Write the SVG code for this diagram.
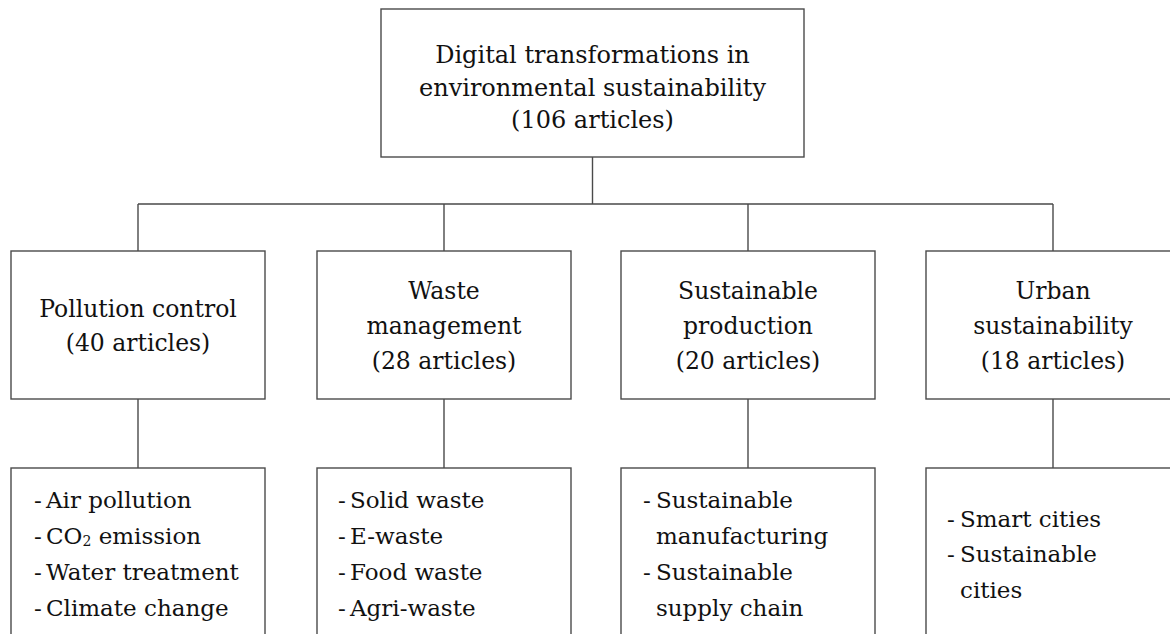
<svg xmlns="http://www.w3.org/2000/svg" width="1170" height="634" viewBox="0 0 1170 634">
<style>
  .box { fill: #ffffff; stroke: #4a4a4a; stroke-width: 1.4; }
  .conn { fill: none; stroke: #4a4a4a; stroke-width: 1.4; }
  text { font-family: "DejaVu Serif", "Liberation Serif", serif; font-size: 23px; fill: #111111; }
  .c { text-anchor: middle; font-size: 23.5px; }
  .t { text-anchor: middle; font-size: 24px; }
</style>
<rect width="1170" height="634" fill="#ffffff"/>
<g id="connectors">
  <path class="conn" d="M592.5 157 V204 M138 204 H1053 M138 204 V251 M444 204 V251 M748 204 V251 M1053 204 V251 M138 399 V468 M444 399 V468 M748 399 V468 M1053 399 V468"/>
</g>
<g id="root">
  <rect class="box" x="381" y="9" width="423" height="148"/>
  <text class="t" x="592.5" y="63">Digital transformations in</text>
  <text class="t" x="592.5" y="96">environmental sustainability</text>
  <text class="t" x="592.5" y="128">(106 articles)</text>
</g>
<g id="pollution">
  <rect class="box" x="11" y="251" width="254" height="148"/>
  <text class="c" x="138" y="317">Pollution control</text>
  <text class="c" x="138" y="351">(40 articles)</text>
</g>
<g id="waste">
  <rect class="box" x="317" y="251" width="254" height="148"/>
  <text class="c" x="444" y="299">Waste</text>
  <text class="c" x="444" y="334">management</text>
  <text class="c" x="444" y="369">(28 articles)</text>
</g>
<g id="production">
  <rect class="box" x="621" y="251" width="254" height="148"/>
  <text class="c" x="748" y="299">Sustainable</text>
  <text class="c" x="748" y="334">production</text>
  <text class="c" x="748" y="369">(20 articles)</text>
</g>
<g id="urban">
  <rect class="box" x="926" y="251" width="254" height="148"/>
  <text class="c" x="1053" y="299">Urban</text>
  <text class="c" x="1053" y="334">sustainability</text>
  <text class="c" x="1053" y="369">(18 articles)</text>
</g>
<g id="pollution-topics">
  <rect class="box" x="11" y="468" width="254" height="200"/>
  <text x="34" y="508">-</text><text x="46" y="508">Air pollution</text>
  <text x="34" y="544">-</text><text x="46" y="544">CO<tspan font-size="14" dy="2">2</tspan><tspan dy="-2"> emission</tspan></text>
  <text x="34" y="580">-</text><text x="46" y="580">Water treatment</text>
  <text x="34" y="616">-</text><text x="46" y="616">Climate change</text>
</g>
<g id="waste-topics">
  <rect class="box" x="317" y="468" width="254" height="200"/>
  <text x="338" y="508">-</text><text x="350" y="508">Solid waste</text>
  <text x="338" y="544">-</text><text x="350" y="544">E-waste</text>
  <text x="338" y="580">-</text><text x="350" y="580">Food waste</text>
  <text x="338" y="616">-</text><text x="350" y="616">Agri-waste</text>
</g>
<g id="production-topics">
  <rect class="box" x="621" y="468" width="254" height="200"/>
  <text x="643" y="508">-</text><text x="656" y="508">Sustainable</text>
  <text x="656" y="544">manufacturing</text>
  <text x="643" y="580">-</text><text x="656" y="580">Sustainable</text>
  <text x="656" y="616">supply chain</text>
</g>
<g id="urban-topics">
  <rect class="box" x="926" y="468" width="254" height="200"/>
  <text x="947" y="527">-</text><text x="960" y="527">Smart cities</text>
  <text x="947" y="562">-</text><text x="960" y="562">Sustainable</text>
  <text x="960" y="598">cities</text>
</g>
</svg>
